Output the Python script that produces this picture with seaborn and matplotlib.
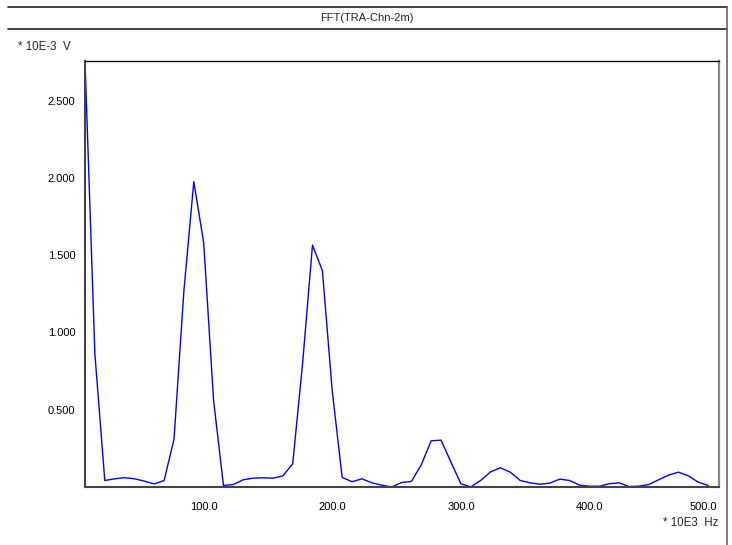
import numpy as np
import pandas as pd
import matplotlib
matplotlib.use("Agg")
import matplotlib.pyplot as plt
from matplotlib.lines import Line2D
from matplotlib.ticker import FixedLocator, FormatStrFormatter
import seaborn as sns

# Spectrum amplitude per FFT bin (units of 1e-3 V)
amplitude = [
    2.756, 0.86, 0.042, 0.053, 0.06, 0.053, 0.038, 0.02,
    0.042, 0.31, 1.27, 1.975, 1.58, 0.56, 0.01, 0.016,
    0.047, 0.057, 0.06, 0.057, 0.072, 0.15, 0.80, 1.565,
    1.40, 0.62, 0.062, 0.034, 0.053, 0.027, 0.012, 0.0,
    0.029, 0.036, 0.144, 0.299, 0.303, 0.161, 0.021, 0.001,
    0.042, 0.098, 0.124, 0.096, 0.042, 0.027, 0.018, 0.025,
    0.051, 0.042, 0.012, 0.005, 0.005, 0.021, 0.027, 0.003,
    0.005, 0.016, 0.047, 0.077, 0.096, 0.072, 0.031, 0.01,
]
# Bin grid (units of 1e3 Hz)
bin_start_khz = 7.0
bin_step_khz = 7.71

x_ticks = [100.0, 200.0, 300.0, 400.0, 500.0]
y_ticks = [0.5, 1.0, 1.5, 2.0, 2.5]

title = "FFT(TRA-Chn-2m)"
y_unit = "* 10E-3  V"
x_unit = "* 10E3  Hz"

freq = bin_start_khz + bin_step_khz * np.arange(len(amplitude))
df = pd.DataFrame({"freq": freq, "amp": amplitude})

sns.set_style("white")
plt.rcParams["font.family"] = ["Liberation Sans", "DejaVu Sans"]

W, H = 732, 545
fig = plt.figure(figsize=(W / 100, H / 100), dpi=100)
ax = fig.add_axes([85 / W, 1 - 487 / H, (719 - 85) / W, (487 - 61) / H])

sns.lineplot(data=df, x="freq", y="amp", ax=ax, color="#0000ff",
             linewidth=1.0, legend=False)

ax.set_xlim(7.0, 501.2)
ax.set_ylim(0, max(amplitude))
ax.xaxis.set_major_locator(FixedLocator(x_ticks))
ax.yaxis.set_major_locator(FixedLocator(y_ticks))
ax.xaxis.set_major_formatter(FormatStrFormatter("%.1f"))
ax.yaxis.set_major_formatter(FormatStrFormatter("%.3f"))
ax.tick_params(axis="both", direction="out", length=3, width=1,
               colors="#222222", labelsize=8, labelcolor="black")
ax.tick_params(axis="x", pad=8)
ax.tick_params(axis="y", pad=4)
ax.set_xlabel("")
ax.set_ylabel("")

# keep the last frequency label inside the plot width
fig.canvas.draw()
ax.get_xticklabels()[-1].set_horizontalalignment("right")

for side, col, lw in [("top", "#111111", 1.0), ("left", "#444444", 1.5),
                      ("bottom", "#444444", 1.5), ("right", "#888888", 1.6)]:
    ax.spines[side].set_visible(True)
    ax.spines[side].set_color(col)
    ax.spines[side].set_linewidth(lw)

# Header band and outer frame
frame_kw = dict(color="#222222", linewidth=1.2, transform=fig.transFigure)
fig.add_artist(Line2D([8 / W, 727 / W], [1 - 7 / H, 1 - 7 / H], **frame_kw))
fig.add_artist(Line2D([8 / W, 727 / W], [1 - 29 / H, 1 - 29 / H], **frame_kw))
fig.add_artist(Line2D([727 / W, 727 / W], [1 - 7 / H, 0], color="#666666",
                      linewidth=1.2, transform=fig.transFigure))

fig.text(367 / W, 1 - 18 / H, title, ha="center", va="center", fontsize=8)
fig.text(18 / W, 1 - 47 / H, y_unit, ha="left", va="center", fontsize=8.3)
fig.text(718 / W, 1 - 523 / H, x_unit, ha="right", va="center", fontsize=8.3)

fig.savefig("out.png", dpi=100)
